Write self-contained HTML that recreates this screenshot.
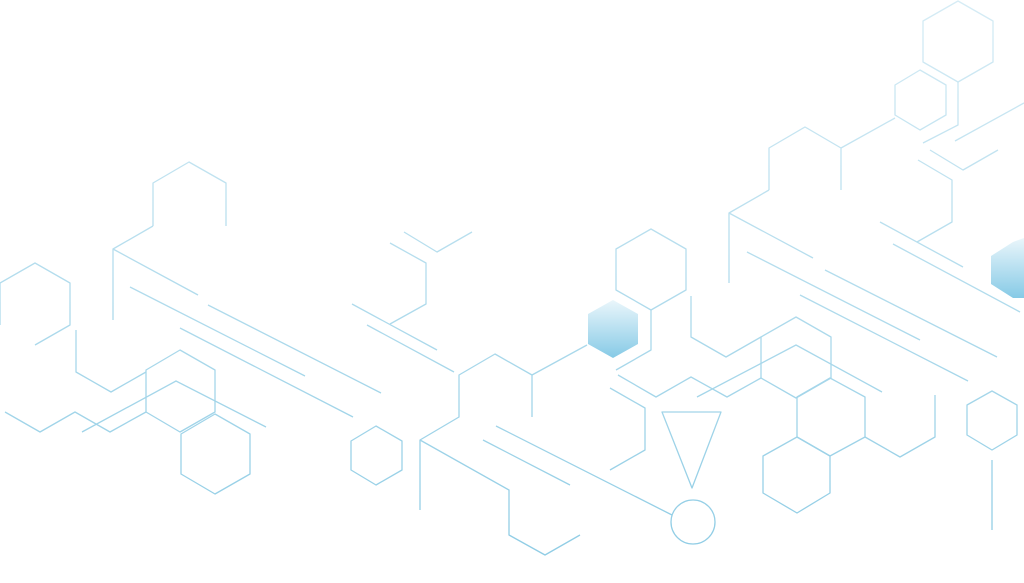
<!DOCTYPE html>
<html><head><meta charset="utf-8"><style>
html,body{margin:0;padding:0;background:#fff;width:1024px;height:583px;overflow:hidden}
svg{display:block}
</style></head><body>
<svg width="1024" height="583" viewBox="0 0 1024 583" xmlns="http://www.w3.org/2000/svg">
<defs>
<linearGradient id="s" gradientUnits="userSpaceOnUse" x1="0" y1="0" x2="0" y2="583">
<stop offset="0" stop-color="#d6ecf5"/><stop offset="1" stop-color="#8ccbe4"/></linearGradient>
<linearGradient id="f" x1="0" y1="0" x2="0" y2="1">
<stop offset="0" stop-color="#eaf6fb"/><stop offset="1" stop-color="#86cae6"/></linearGradient>
</defs>
<g fill="none" stroke="url(#s)" stroke-width="1.3" stroke-linejoin="round">
<polygon points="958,1 993,21 993,62 958,82 923,62 923,21"/>
<polygon points="920,70 946,85 946,115 920,130 895,115 895,85"/>
<polyline points="958,82 958,125 923,143"/>
<line x1="955" y1="141" x2="1024" y2="103"/>
<polyline points="930,150 963,170 998,150"/>
<polyline points="769,190 769,148 805,127 841,148 841,190"/>
<line x1="841" y1="148" x2="895" y2="118"/>
<polyline points="769,190 729,213 729,283"/>
<line x1="729" y1="213" x2="813" y2="258"/>
<polyline points="918,160 952,180 952,222 917,242"/>
<line x1="880" y1="222" x2="963" y2="267"/>
<line x1="893" y1="244" x2="1020" y2="312"/>
<line x1="747" y1="252" x2="920" y2="340"/>
<line x1="825" y1="270" x2="997" y2="357"/>
<line x1="800" y1="295" x2="968" y2="381"/>
<polygon points="651,229 686,249 686,290 651,310 616,290 616,249"/>
<polyline points="651,310 651,350 616,370"/>
<polyline points="691,296 691,337 726,357 761,337"/>
<polygon points="796,317 831,337 831,378 796,398 761,378 761,337"/>
<polyline points="618,375 656,397 691,377 727,397 761,378"/>
<polyline points="697,397 796,345 882,392"/>
<polygon points="830,378 865,397 865,437 830,456 797,437 797,397"/>
<polyline points="865,437 900,457 935,437 935,395"/>
<polygon points="797,437 830,456 830,493 797,513 763,493 763,456"/>
<polygon points="662,412 721,412 692,488"/>
<circle cx="693" cy="522" r="22"/>
<polyline points="610,388 645,408 645,450 610,470"/>
<polygon points="992,391 1017,405 1017,435 992,450 967,435 967,405"/>
<line x1="992" y1="460" x2="992" y2="530"/>
<polyline points="532,417 532,375 495,354 459,375 459,417 420,440 420,510"/>
<line x1="532" y1="375" x2="587" y2="345"/>
<polyline points="420,440 509,490 509,535 545,555 580,535"/>
<line x1="496" y1="426" x2="672" y2="515"/>
<line x1="483" y1="440" x2="570" y2="485"/>
<polyline points="404,232 437,252 472,232"/>
<polyline points="390,243 426,263 426,304 390,324"/>
<line x1="352" y1="304" x2="437" y2="350"/>
<line x1="367" y1="325" x2="454" y2="372"/>
<polygon points="376,426 402,441 402,470 376,485 351,470 351,441"/>
<polyline points="153,226 153,183 189,162 226,183 226,226"/>
<polyline points="153,226 113,249 113,320"/>
<line x1="113" y1="249" x2="198" y2="295"/>
<line x1="130" y1="287" x2="305" y2="376"/>
<line x1="208" y1="305" x2="381" y2="393"/>
<line x1="180" y1="328" x2="353" y2="417"/>
<polyline points="0,325 0,283 35,263 70,283 70,325 35,345"/>
<polyline points="76,330 76,372 111,392 146,372"/>
<polygon points="180,350 215,370 215,412 180,432 146,412 146,370"/>
<polyline points="82,432 176,381 266,427"/>
<polyline points="5,412 40,432 75,412 110,432 146,412"/>
<polygon points="215,414 250,434 250,474 215,494 181,474 181,434"/>
</g>
<polygon points="613,300 638,314 638,344 613,358 588,344 588,314" fill="url(#f)"/>
<polygon points="1024,238 1024,298 1013,298 991,284 991,256 1013,242" fill="url(#f)"/>
</svg>
</body></html>
